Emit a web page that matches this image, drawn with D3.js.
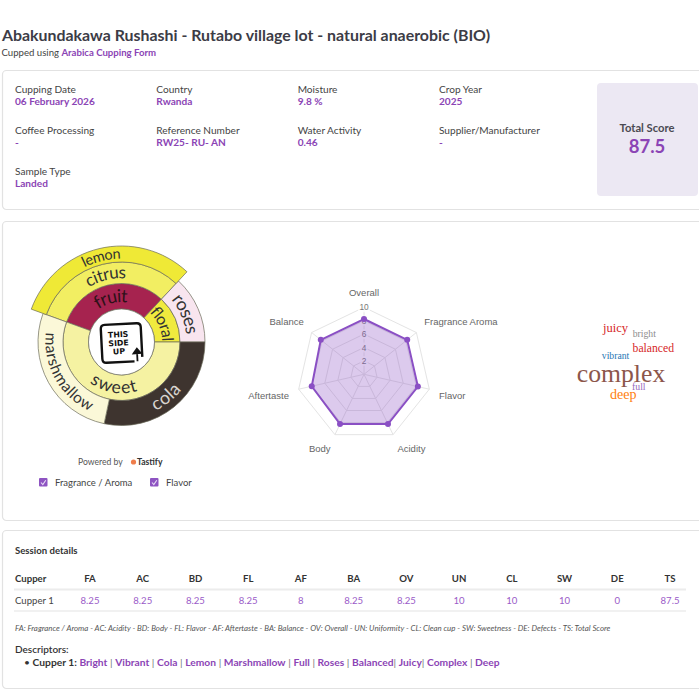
<!DOCTYPE html>
<html><head><meta charset="utf-8">
<script src="https://cdn.jsdelivr.net/npm/d3@7"></script>
<style>
html,body{margin:0;padding:0;background:#fff;}
svg{display:block;}
</style></head><body>
<svg id="chart" width="699" height="699"></svg>
<script>
// ---------------- data ----------------
const titleText = "Abakundakawa Rushashi - Rutabo village lot - natural anaerobic (BIO)";
const cuppedPrefix = "Cupped using ";
const formName = "Arabica Cupping Form";

const infoLabels = ["Cupping Date","Country","Moisture","Crop Year","Coffee Processing","Reference Number","Water Activity","Supplier/Manufacturer","Sample Type"];
const infoValues = ["06 February 2026","Rwanda","9.8 %","2025","-","RW25- RU- AN","0.46","-","Landed"];
const totalLabel = "Total Score";
const totalScore = "87.5";

const flavorLevel1 = ["fruit","floral","sweet"];
const flavorLevel2 = ["citrus","roses","cola","marshmallow"];
const flavorLevel2Parent = ["fruit","floral","sweet","sweet"];
const flavorLevel3 = ["lemon"];
const flavorLevel3Parent = ["citrus"];
const leafNames = ["lemon","roses","cola","marshmallow"];
const leafValues = [113,47,102,98];

const legendItems = ["Fragrance / Aroma","Flavor"];

const radarAxes = ["Overall","Fragrance Aroma","Flavor","Acidity","Body","Aftertaste","Balance"];
const radarValues = [8.25,8.25,8.25,8.25,8.25,8,8.25];
const radarTicks = [2,4,6,8,10];

const cloudWords = ["juicy","bright","balanced","vibrant","complex","full","deep"];
const cloudWeights = [1.7,1,1.5,1,5,1,2.1];

const tableHeaders = ["Cupper","FA","AC","BD","FL","AF","BA","OV","UN","CL","SW","DE","TS"];
const cupperNames = ["Cupper 1"];
const cupperScores = [[8.25,8.25,8.25,8.25,8,8.25,8.25,10,10,10,0,87.5]];
const abbreviations = "FA: Fragrance / Aroma - AC: Acidity - BD: Body - FL: Flavor - AF: Aftertaste - BA: Balance - OV: Overall - UN: Uniformity - CL: Clean cup - SW: Sweetness - DE: Defects - TS: Total Score";
const descriptors = ["Bright","Vibrant","Cola","Lemon","Marshmallow","Full","Roses","Balanced","Juicy","Complex","Deep"];
const descriptorSeparators = [" | "," | "," | "," | "," | "," | "," | ","| ","| "," | "];

// ---------------- styles ----------------
const UI = "Lato, 'Open Sans', sans-serif";
const PURPLE = "#8b44b5";
const DARK = "#3c3c46";
const svg = d3.select("#chart");

// panels
[[70.5,139],[221.5,299],[530.5,158]].forEach(([y,h])=>{
  svg.append("rect").attr("x",2.5).attr("y",y).attr("width",720).attr("height",h)
    .attr("rx",4).attr("fill","#fff").attr("stroke","#e2e2e2").attr("stroke-width",1.2);
});

// title
svg.append("text").attr("x",2).attr("y",40.5).attr("font-family",UI).attr("font-weight",700)
  .attr("font-size",15.9).attr("fill",DARK).text(titleText);
const sub = svg.append("text").attr("x",1.5).attr("y",55.5).attr("font-family",UI).attr("font-size",9.6).attr("fill","#444");
sub.append("tspan").text(cuppedPrefix);
sub.append("tspan").attr("fill",PURPLE).attr("font-weight",700).text(formName);

// info grid
const colX = d3.scalePoint().domain([0,1,2,3]).range([15,439]);
const rowY = d3.scalePoint().domain([0,1,2]).range([92.5,174.5]);
infoLabels.forEach((lab,i)=>{
  const c=i%4, r=Math.floor(i/4);
  svg.append("text").attr("x",colX(c)).attr("y",rowY(r)).attr("font-family",UI)
    .attr("font-size",10.1).attr("fill","#444").text(lab);
  svg.append("text").attr("x",colX(c)).attr("y",rowY(r)+12).attr("font-family",UI)
    .attr("font-size",10.1).attr("font-weight",700).attr("fill",PURPLE).text(infoValues[i]);
});
svg.append("rect").attr("x",597).attr("y",83).attr("width",101).attr("height",113).attr("rx",4).attr("fill","#ece8f3");
svg.append("text").attr("x",647).attr("y",132).attr("text-anchor","middle").attr("font-family",UI)
  .attr("font-weight",700).attr("font-size",11.2).attr("fill","#4a4a52").text(totalLabel);
svg.append("text").attr("x",647).attr("y",153).attr("text-anchor","middle").attr("font-family",UI)
  .attr("font-weight",700).attr("font-size",18.5).attr("fill",PURPLE).text(totalScore);

// ---------------- sunburst ----------------
const cx = 121.5, cy = 342;
const sb = svg.append("g").attr("transform",`translate(${cx},${cy})`);
const rows = [{id:"root",parent:null}]
  .concat(flavorLevel1.map(n=>({id:n,parent:"root"})))
  .concat(flavorLevel2.map((n,i)=>({id:n,parent:flavorLevel2Parent[i]})))
  .concat(flavorLevel3.map((n,i)=>({id:n,parent:flavorLevel3Parent[i]})));
const leafVal = new Map(leafNames.map((n,i)=>[n,leafValues[i]]));
const root = d3.stratify().id(d=>d.id).parentId(d=>d.parent)(rows).sum(d=>leafVal.get(d.id)||0);
d3.partition().size([2*Math.PI,3])(root);
const angleOffset = -70*Math.PI/180;
const ringR = {1:[33,58.5],2:[58.5,80],3:[80,96]};
const leafOuter2 = 83.5;
const innerR = d=>ringR[d.depth][0];
const outerR = d=>(d.depth===2 && !d.children) ? leafOuter2 : ringR[d.depth][1];
const fillColor = {fruit:"#a6234f",floral:"#f0ea3e",sweet:"#f5f2a2",citrus:"#f2ee62",roses:"#f8e5ef",
  cola:"#3e342f",marshmallow:"#fbf8d8",lemon:"#efe936"};
const labelColor = {fruit:"#2e1118",cola:"#d9d5d0"};
const labelSize = {lemon:14.5,citrus:17,fruit:18,floral:16,roses:18,sweet:17.5,cola:18,marshmallow:15.5};
const arc = d3.arc().startAngle(d=>d.x0+angleOffset).endAngle(d=>d.x1+angleOffset)
  .innerRadius(innerR).outerRadius(outerR);
const nodes = root.descendants().filter(d=>d.depth>0);
sb.selectAll("path.seg").data(nodes).join("path").attr("class","seg")
  .attr("d",arc).attr("fill",d=>fillColor[d.id]).attr("stroke","#6b6b5a").attr("stroke-width",0.7);
const pt=(a,r)=>[r*Math.sin(a),-r*Math.cos(a)];
nodes.forEach((d,i)=>{
  const a0=d.x0+angleOffset, a1=d.x1+angleOffset, r=(innerR(d)+outerR(d))/2;
  const mid=(a0+a1)/2, upper=Math.cos(mid)>0, large=(a1-a0)>Math.PI?1:0;
  let p;
  if(upper){const s=pt(a0,r),e=pt(a1,r);p=`M${s[0]},${s[1]}A${r},${r} 0 ${large} 1 ${e[0]},${e[1]}`;}
  else {const s=pt(a1,r),e=pt(a0,r);p=`M${s[0]},${s[1]}A${r},${r} 0 ${large} 0 ${e[0]},${e[1]}`;}
  sb.append("path").attr("id","lp"+i).attr("d",p).attr("fill","none");
  sb.append("text").attr("font-family",UI).attr("font-size",labelSize[d.id]).attr("dy","0.32em")
    .attr("fill",labelColor[d.id]||"#333")
    .append("textPath").attr("href","#lp"+i).attr("startOffset","50%").attr("text-anchor","middle").text(d.id);
});
sb.append("circle").attr("r",33).attr("fill","#fff").attr("stroke","#6b6b5a").attr("stroke-width",0.7);
// logo
const logo = sb.append("g").attr("transform","rotate(-3)");
logo.append("path").attr("d","M12,20 L-16,20 Q-20,20 -20,16 L-20,-14 Q-20,-18 -16,-18 L16,-18 Q20,-18 20,-14 L20,16")
  .attr("fill","none").attr("stroke","#111").attr("stroke-width",2.4);
["THIS","SIDE","UP"].forEach((t,i)=>logo.append("text").attr("x",-3).attr("y",-5+i*8.5)
  .attr("text-anchor","middle").attr("font-family","'DejaVu Sans', sans-serif").attr("font-weight",700)
  .attr("font-size",7.8).attr("fill","#111").text(t));
logo.append("path").attr("d","M15,20 L15,9 M11.5,12 L15,7.5 L18.5,12Z").attr("fill","#111").attr("stroke","#111").attr("stroke-width",1.8);

// powered by
const pw = svg.append("text").attr("x",78).attr("y",465).attr("font-family",UI).attr("font-size",8.6).attr("fill","#555");
pw.append("tspan").text("Powered by ");
svg.append("circle").attr("cx",133.5).attr("cy",462).attr("r",2.6).attr("fill","#ef7d4b");
svg.append("text").attr("x",137).attr("y",465).attr("font-family",UI).attr("font-size",8.6).attr("font-weight",700).attr("fill","#333").text("Tastify");

// legend
const legX = d3.scaleOrdinal().domain(legendItems).range([39,150]);
legendItems.forEach(it=>{
  const x=legX(it);
  svg.append("rect").attr("x",x).attr("y",478).attr("width",8.5).attr("height",8.5).attr("rx",1).attr("fill","#8e54c2");
  svg.append("path").attr("d",`M${x+2},${482.5} L${x+3.8},${484.5} L${x+6.8},${480.3}`).attr("fill","none")
    .attr("stroke","#e8dcf5").attr("stroke-width",1.1);
  svg.append("text").attr("x",x+16).attr("y",485.5).attr("font-family",UI).attr("font-size",9.5).attr("fill","#444").text(it);
});

// ---------------- radar ----------------
const rcx=364, rcy=374.3;
const rScale = d3.scaleLinear().domain([0,10]).range([0,67]);
const angle = i=>i*2*Math.PI/radarAxes.length;
const rg = svg.append("g").attr("transform",`translate(${rcx},${rcy})`);
const ringLine = d3.lineRadial().angle((d,i)=>angle(i)).radius(d=>rScale(d)).curve(d3.curveLinearClosed);
radarTicks.forEach(t=>{
  rg.append("path").attr("d",ringLine(radarAxes.map(()=>t))).attr("fill","none").attr("stroke","#e4e4e4").attr("stroke-width",1);
});
radarAxes.forEach((a,i)=>{
  const p=pt(angle(i),rScale(10));
  rg.append("line").attr("x1",0).attr("y1",0).attr("x2",p[0]).attr("y2",p[1]).attr("stroke","#e4e4e4");
});
radarTicks.forEach(t=>{
  const y=-rScale(t);
  const w = String(t).length*4.6+3;
  rg.append("rect").attr("x",-w/2).attr("y",y-5).attr("width",w).attr("height",10).attr("fill","rgba(255,255,255,0.75)");
  rg.append("text").attr("x",0).attr("y",y+3).attr("text-anchor","middle").attr("font-family","'Liberation Sans', Arial, sans-serif")
    .attr("font-size",8.3).attr("fill","#777").text(t);
});
rg.append("path").attr("d",ringLine(radarValues)).attr("fill","rgba(140,80,195,0.3)").attr("stroke","#8a4fc4").attr("stroke-width",2);
radarValues.forEach((v,i)=>{
  const p=pt(angle(i),rScale(v));
  rg.append("circle").attr("cx",p[0]).attr("cy",p[1]).attr("r",3).attr("fill","#8a4fc4");
});
radarAxes.forEach((a,i)=>{
  const p=pt(angle(i),rScale(10)+10);
  const s=Math.sin(angle(i)), c=-Math.cos(angle(i));
  const anchor = Math.abs(s)<0.05?"middle":(s>0?"start":"end");
  const y = c<0 ? p[1]-1.5 : p[1]+8;
  rg.append("text").attr("x",p[0]).attr("y",y).attr("text-anchor",anchor)
    .attr("font-family","'Liberation Sans', Arial, sans-serif").attr("font-size",9.5).attr("fill","#666").text(a);
});

// ---------------- word cloud ----------------
const cloudOrigin=[630,365];
const cloudLayout=[[-14.5,-33.3],[14.3,-27.7],[23.3,-12.7],[-14.5,-6.3],[-9,16.7],[8.8,25],[-6.7,34.3]];
const cloudColors=["#d62728","#8c8c8c","#d62728","#1f77b4","#8c564b","#9467bd","#ff7f0e"];
const fontScale = d3.scaleLinear().domain([1,5]).range([9.7,25.7]);
const cg = svg.append("g").attr("transform",`translate(${cloudOrigin[0]},${cloudOrigin[1]})`);
cg.selectAll("text").data(cloudWords).join("text")
  .attr("x",(d,i)=>cloudLayout[i][0]).attr("y",(d,i)=>cloudLayout[i][1])
  .attr("text-anchor","middle").attr("font-family","'Liberation Serif', 'Times New Roman', serif")
  .attr("font-size",(d,i)=>fontScale(cloudWeights[i])).attr("fill",(d,i)=>cloudColors[i]).text(d=>d);

// ---------------- session table ----------------
svg.append("text").attr("x",15).attr("y",554).attr("font-family",UI).attr("font-weight",700).attr("font-size",9.6).attr("fill","#333").text("Session details");
const colScale = d3.scalePoint().domain(tableHeaders.slice(1)).range([90,670]);
svg.append("text").attr("x",15).attr("y",581.5).attr("font-family",UI).attr("font-weight",700).attr("font-size",9.6).attr("fill","#333").text(tableHeaders[0]);
tableHeaders.slice(1).forEach(h=>{
  svg.append("text").attr("x",colScale(h)).attr("y",581.5).attr("text-anchor","middle").attr("font-family",UI)
    .attr("font-weight",700).attr("font-size",9.6).attr("fill","#333").text(h);
});
svg.append("line").attr("x1",14).attr("x2",686).attr("y1",589.5).attr("y2",589.5).attr("stroke","#ececec").attr("stroke-width",2);
cupperNames.forEach((n,r)=>{
  const y=603.5+r*21;
  svg.append("text").attr("x",15).attr("y",y).attr("font-family",UI).attr("font-size",9.6).attr("fill","#444").text(n);
  cupperScores[r].forEach((v,j)=>{
    svg.append("text").attr("x",colScale(tableHeaders[j+1])).attr("y",y).attr("text-anchor","middle").attr("font-family",UI)
      .attr("font-size",9.6).attr("fill","#9a5bc8").text(v);
  });
  svg.append("line").attr("x1",14).attr("x2",686).attr("y1",y+7.5).attr("y2",y+7.5).attr("stroke","#ececec").attr("stroke-width",1.5);
});
svg.append("text").attr("x",15).attr("y",631).attr("font-family",UI).attr("font-style","italic").attr("font-size",7.9).attr("fill","#555").text(abbreviations);
svg.append("text").attr("x",15).attr("y",653).attr("font-family",UI).attr("font-size",10).attr("fill","#333").attr("font-weight",600).text("Descriptors:");
const dl = svg.append("text").attr("x",24).attr("y",666).attr("font-family",UI).attr("font-size",10.25).attr("xml:space","preserve");
dl.append("tspan").attr("fill","#333").text("• ");
dl.append("tspan").attr("fill","#333").attr("font-weight",700).text("Cupper 1: ");
descriptors.forEach((d,i)=>{
  dl.append("tspan").attr("fill",PURPLE).attr("font-weight",700).text(d);
  if(i<descriptorSeparators.length) dl.append("tspan").attr("fill","#777").text(descriptorSeparators[i]);
});
</script>
</body></html>
